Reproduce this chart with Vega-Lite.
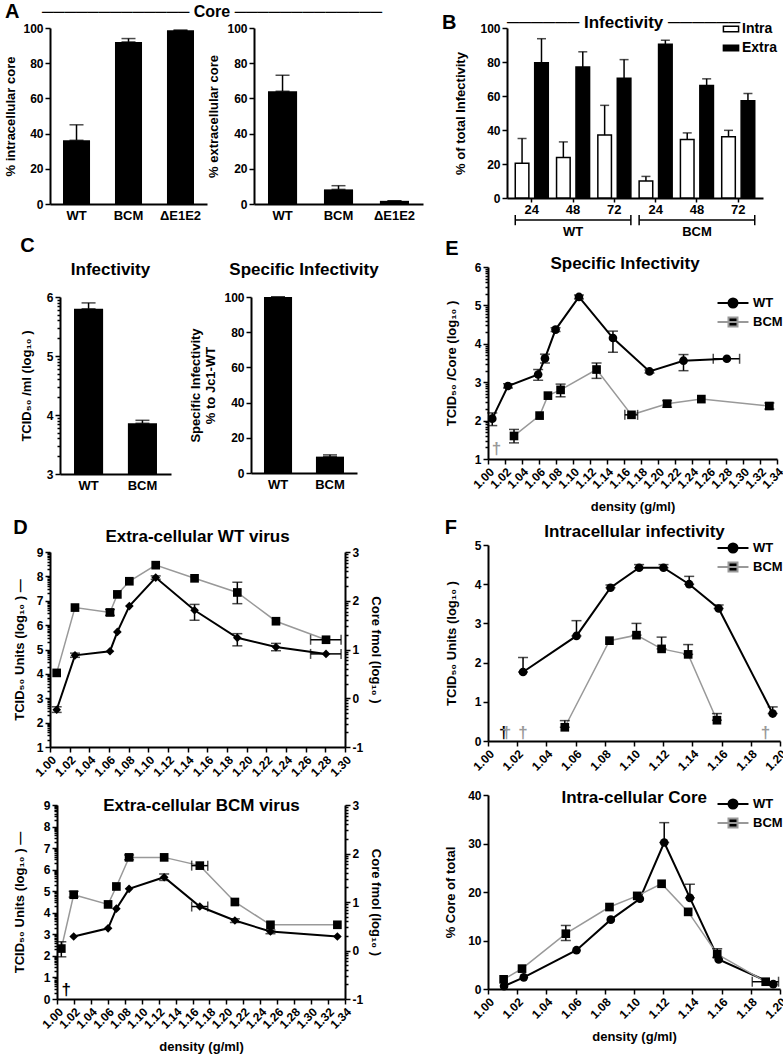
{
"$schema":"https://vega.github.io/schema/vega-lite/v6.json",
"background":"white",
"padding":{"left":4,"top":2,"right":0,"bottom":0},
"config":{
 "font":"Liberation Sans",
 "view":{"stroke":null},
 "axis":{"labelFont":"Liberation Sans","labelFontWeight":"bold","labelFontSize":12,"labelColor":"black","titleFont":"Liberation Sans","titleFontWeight":"bold","titleFontSize":13,"titleColor":"black","domainColor":"black","domainWidth":2,"tickColor":"black","tickWidth":1.5,"tickSize":5,"grid":false,"labelPadding":2,"titlePadding":6,"labelOverlap":false},
 "title":{"font":"Liberation Sans","fontWeight":"bold","fontSize":17,"color":"black"},
 "legend":{"labelFont":"Liberation Sans","labelFontWeight":"bold","labelFontSize":14,"labelColor":"black"}
},
"spacing":18,
"resolve":{"scale":{"shape":"independent","fill":"independent","stroke":"independent"},"legend":{"shape":"independent","fill":"independent","stroke":"independent"}},
"hconcat":[
 {"columns":1,"align":"none","spacing":26,"concat":[
  {"columns":1,"align":"none","spacing":14,"concat":[
   {"title":{"text":"───────────── Core ─────────────","fontSize":16,"offset":-18,"anchor":"start","dx":37},
    "spacing":0,
    "hconcat":[
     {"title":{"text":"A","anchor":"start","fontSize":20,"offset":0},
      "width":157,"height":176,
      "data":{"values":[{"v":"WT","m":36.2,"hi":45},{"v":"BCM","m":92.1,"hi":94},{"v":"ΔE1E2","m":98.7,"hi":98.7}]},
      "encoding":{
       "x":{"field":"v","type":"nominal","sort":null,"title":null,"scale":{"paddingInner":0.48,"paddingOuter":0.25},"axis":{"labelAngle":0,"ticks":false,"labelPadding":5,"labelFontSize":13}},
       "y":{"field":"m","type":"quantitative","title":"% intracellular core","scale":{"domain":[0,100],"nice":false},"axis":{"values":[0,20,40,60,80,100],"labelOverlap":false,"titlePadding":5}}
      },
      "layer":[
       {"mark":{"type":"bar","color":"black"},"encoding":{}},
       {"mark":{"type":"errorbar","ticks":true,"size":14,"thickness":1.5,"color":"black"},"encoding":{"y2":{"field":"hi"}}}
      ]},
     {"width":169,"height":176,
      "data":{"values":[{"v":"WT","m":64.1,"hi":73.2},{"v":"BCM","m":8.3,"hi":10.4},{"v":"ΔE1E2","m":1.8,"hi":1.8}]},
      "encoding":{
       "x":{"field":"v","type":"nominal","sort":null,"title":null,"scale":{"paddingInner":0.48,"paddingOuter":0.25},"axis":{"labelAngle":0,"ticks":false,"labelPadding":5,"labelFontSize":13}},
       "y":{"field":"m","type":"quantitative","title":"% extracellular core","scale":{"domain":[0,100],"nice":false},"axis":{"values":[0,20,40,60,80,100],"labelOverlap":false,"titlePadding":6}}
      },
      "layer":[
       {"mark":{"type":"bar","color":"black"},"encoding":{}},
       {"mark":{"type":"errorbar","ticks":true,"size":14,"thickness":1.5,"color":"black"},"encoding":{"y2":{"field":"hi"}}}
      ]}
    ]},
   {"title":{"text":"C","anchor":"start","fontSize":20,"offset":5},
    "spacing":18,
    "hconcat":[
     {"title":{"text":"Infectivity","offset":12},"width":121,"height":177,
      "data":{"values":[{"v":"WT","m":5.8,"hi":5.9},{"v":"BCM","m":3.86,"hi":3.91}]},
      "encoding":{
       "x":{"field":"v","type":"nominal","sort":null,"title":null,"scale":{"paddingInner":0.46,"paddingOuter":0.26,"range":[10,121]},"axis":{"labelAngle":0,"ticks":false,"labelPadding":5,"labelFontSize":13}},
       "y":{"field":"m","type":"quantitative","title":"TCID₅₀ /ml (log₁₀ )","scale":{"domain":[3,6],"nice":false,"zero":false},"axis":{"offset":-10,"titlePadding":13,"values":[3,3.301,3.477,3.602,3.699,3.778,3.845,3.903,3.954,4,4.301,4.477,4.602,4.699,4.778,4.845,4.903,4.954,5,5.301,5.477,5.602,5.699,5.778,5.845,5.903,5.954,6],"labelExpr":"datum.value == round(datum.value) ? '' + datum.value : ''","labelOverlap":false,"tickSize":{"condition":{"test":"datum.value == round(datum.value)","value":5},"value":3}}}
      },
      "layer":[
       {"mark":{"type":"bar","color":"black"},"encoding":{"y2":{"datum":3}}},
       {"mark":{"type":"errorbar","ticks":true,"size":14,"thickness":1.5,"color":"black"},"encoding":{"y2":{"field":"hi"}}}
      ]},
     {"title":{"text":"Specific Infectivity","offset":12},"width":106,"height":176,
      "data":{"values":[{"v":"WT","m":100,"hi":100},{"v":"BCM","m":9.3,"hi":10.3}]},
      "encoding":{
       "x":{"field":"v","type":"nominal","sort":null,"title":null,"scale":{"paddingInner":0.46,"paddingOuter":0.25},"axis":{"labelAngle":0,"ticks":false,"labelPadding":5,"labelFontSize":13}},
       "y":{"field":"m","type":"quantitative","title":["Specific Infectivity","% to Jc1-WT"],"scale":{"domain":[0,100],"nice":false},"axis":{"values":[0,20,40,60,80,100],"labelOverlap":false}}
      },
      "layer":[
       {"mark":{"type":"bar","color":"black"},"encoding":{}},
       {"mark":{"type":"errorbar","ticks":true,"size":14,"thickness":1.5,"color":"black"},"encoding":{"y2":{"field":"hi"}}}
      ]}
    ]}
  ]},
  {"title":{"text":"D","anchor":"start","fontSize":20,"offset":-10},
   "columns":1,"align":"none","spacing":18,
   "concat":[
    {"title":{"text":"Extra-cellular WT virus","offset":0,"anchor":"middle"},
     "vconcat":[
      {"width":295,"height":195,
       "data":{"values":[
        {"s":"T","x":1.0068,"y":2.53,"lo":2.42,"hi":2.65},
        {"s":"T","x":1.0254,"y":4.76,"lo":4.68,"hi":4.85},
        {"s":"T","x":1.061,"y":4.93},
        {"s":"T","x":1.0685,"y":5.72},
        {"s":"T","x":1.0807,"y":6.78},
        {"s":"T","x":1.1075,"y":7.95,"lo":7.88,"hi":8.02},
        {"s":"T","x":1.147,"y":6.61,"lo":6.2,"hi":6.85},
        {"s":"T","x":1.1905,"y":5.48,"lo":5.15,"hi":5.65},
        {"s":"T","x":1.2298,"y":5.1,"lo":4.95,"hi":5.25},
        {"s":"T","x":1.2807,"y":4.82,"xlo":1.265,"xhi":1.296},
        {"s":"C","x":1.0068,"y":0.52},
        {"s":"C","x":1.0254,"y":1.86},
        {"s":"C","x":1.061,"y":1.76,"lo":1.7,"hi":1.82},
        {"s":"C","x":1.0685,"y":2.13},
        {"s":"C","x":1.0807,"y":2.4},
        {"s":"C","x":1.1075,"y":2.73},
        {"s":"C","x":1.147,"y":2.46},
        {"s":"C","x":1.1905,"y":2.17,"lo":1.94,"hi":2.38},
        {"s":"C","x":1.2298,"y":1.58},
        {"s":"C","x":1.2807,"y":1.2,"xlo":1.265,"xhi":1.296}
       ]},
       "encoding":{"x":{"field":"x","type":"quantitative","title":null,"scale":{"domain":[1,1.3],"nice":false,"zero":false},"axis":{"values":[1,1.02,1.04,1.06,1.08,1.1,1.12,1.14,1.16,1.18,1.2,1.22,1.24,1.26,1.28,1.3],"format":".2f","labelAngle":-45,"labelOverlap":false}}},
       "resolve":{"scale":{"y":"independent"}},
       "layer":[
        {"transform":[{"filter":"datum.s=='T'"}],
         "encoding":{"y":{"field":"y","type":"quantitative","title":"TCID₅₀ Units (log₁₀ )   —","scale":{"domain":[1,9],"nice":false,"zero":false},"axis":{"titlePadding":10,"values":[1,1.301,1.477,1.602,1.699,1.778,1.845,1.903,1.954,2,2.301,2.477,2.602,2.699,2.778,2.845,2.903,2.954,3,3.301,3.477,3.602,3.699,3.778,3.845,3.903,3.954,4,4.301,4.477,4.602,4.699,4.778,4.845,4.903,4.954,5,5.301,5.477,5.602,5.699,5.778,5.845,5.903,5.954,6,6.301,6.477,6.602,6.699,6.778,6.845,6.903,6.954,7,7.301,7.477,7.602,7.699,7.778,7.845,7.903,7.954,8,8.301,8.477,8.602,8.699,8.778,8.845,8.903,8.954,9],"labelExpr":"datum.value == round(datum.value) ? '' + datum.value : ''","labelOverlap":false,"tickSize":{"condition":{"test":"datum.value == round(datum.value)","value":5},"value":3}}}},
         "layer":[
          {"mark":{"type":"line","color":"black","strokeWidth":2},"encoding":{}},
          {"transform":[{"filter":"isValid(datum.hi)"}],"mark":{"type":"errorbar","ticks":true,"size":10,"thickness":1.5,"color":"black"},"encoding":{"y":{"field":"lo","type":"quantitative","title":"TCID₅₀ Units (log₁₀ )   —"},"y2":{"field":"hi"}}},
          {"transform":[{"filter":"isValid(datum.xlo)"}],"mark":{"type":"errorbar","ticks":true,"size":10,"thickness":1.5,"color":"black"},"encoding":{"x":{"field":"xlo","type":"quantitative","title":null},"x2":{"field":"xhi"}}},
          {"mark":{"type":"point","shape":"diamond","filled":true,"color":"black","size":75,"opacity":1}}
         ]},
        {"transform":[{"filter":"datum.s=='C'"}],
         "encoding":{"y":{"field":"y","type":"quantitative","title":"Core fmol (log₁₀ )","scale":{"domain":[-1,3],"nice":false,"zero":false},"axis":{"orient":"right","values":[-1,-0.699,-0.523,-0.398,-0.301,-0.222,-0.155,-0.097,-0.046,0,0.301,0.477,0.602,0.699,0.778,0.845,0.903,0.954,1,1.301,1.477,1.602,1.699,1.778,1.845,1.903,1.954,2,2.301,2.477,2.602,2.699,2.778,2.845,2.903,2.954,3],"labelExpr":"datum.value == round(datum.value) ? '' + datum.value : ''","labelOverlap":false,"tickSize":{"condition":{"test":"datum.value == round(datum.value)","value":5},"value":3}}}},
         "layer":[
          {"mark":{"type":"line","color":"#999999","strokeWidth":1.5},"encoding":{}},
          {"transform":[{"filter":"isValid(datum.hi)"}],"mark":{"type":"errorbar","ticks":true,"size":10,"thickness":1.5,"color":"black"},"encoding":{"y":{"field":"lo","type":"quantitative","title":"Core fmol (log₁₀ )"},"y2":{"field":"hi"}}},
          {"transform":[{"filter":"isValid(datum.xlo)"}],"mark":{"type":"errorbar","ticks":true,"size":10,"thickness":1.5,"color":"black"},"encoding":{"x":{"field":"xlo","type":"quantitative","title":null},"x2":{"field":"xhi"}}},
          {"mark":{"type":"point","shape":"square","filled":true,"color":"black","size":75,"opacity":1}}
         ]}
       ]}
     ]},
    {"title":{"text":"Extra-cellular BCM virus","offset":-16,"anchor":"middle","dx":4},
     "vconcat":[
      {"width":295,"height":194,
       "data":{"values":[
        {"s":"T","x":1.0197,"y":2.9},
        {"s":"T","x":1.0603,"y":3.28},
        {"s":"T","x":1.0701,"y":4.19},
        {"s":"T","x":1.0851,"y":5.11},
        {"s":"T","x":1.1265,"y":5.65,"lo":5.5,"hi":5.8},
        {"s":"T","x":1.1686,"y":4.29,"xlo":1.159,"xhi":1.178},
        {"s":"T","x":1.21,"y":3.64,"lo":3.55,"hi":3.72},
        {"s":"T","x":1.252,"y":3.13,"lo":3.03,"hi":3.2},
        {"s":"T","x":1.331,"y":2.9},
        {"s":"C","x":1.0051,"y":0.04,"lo":-0.13,"hi":0.18},
        {"s":"C","x":1.0197,"y":1.15,"lo":1.1,"hi":1.22},
        {"s":"C","x":1.0603,"y":0.95},
        {"s":"C","x":1.0701,"y":1.32},
        {"s":"C","x":1.0851,"y":1.92,"lo":1.87,"hi":1.97},
        {"s":"C","x":1.1265,"y":1.92},
        {"s":"C","x":1.1686,"y":1.75,"xlo":1.159,"xhi":1.178},
        {"s":"C","x":1.21,"y":1.0},
        {"s":"C","x":1.252,"y":0.53},
        {"s":"C","x":1.331,"y":0.53}
       ]},
       "encoding":{"x":{"field":"x","type":"quantitative","title":"density (g/ml)","scale":{"domain":[1,1.34],"nice":false,"zero":false,"range":[7,295]},"axis":{"values":[1,1.02,1.04,1.06,1.08,1.1,1.12,1.14,1.16,1.18,1.2,1.22,1.24,1.26,1.28,1.3,1.32,1.34],"format":".2f","labelAngle":-45,"labelOverlap":false,"titlePadding":10}}},
       "resolve":{"scale":{"y":"independent"}},
       "layer":[
        {"transform":[{"filter":"datum.s=='T'"}],
         "encoding":{"y":{"field":"y","type":"quantitative","title":"TCID₅₀ Units (log₁₀ )   —","scale":{"domain":[0,9],"nice":false,"zero":false},"axis":{"offset":-7,"titlePadding":17,"values":[0,0.301,0.477,0.602,0.699,0.778,0.845,0.903,0.954,1,1.301,1.477,1.602,1.699,1.778,1.845,1.903,1.954,2,2.301,2.477,2.602,2.699,2.778,2.845,2.903,2.954,3,3.301,3.477,3.602,3.699,3.778,3.845,3.903,3.954,4,4.301,4.477,4.602,4.699,4.778,4.845,4.903,4.954,5,5.301,5.477,5.602,5.699,5.778,5.845,5.903,5.954,6,6.301,6.477,6.602,6.699,6.778,6.845,6.903,6.954,7,7.301,7.477,7.602,7.699,7.778,7.845,7.903,7.954,8,8.301,8.477,8.602,8.699,8.778,8.845,8.903,8.954,9],"labelExpr":"datum.value == round(datum.value) ? '' + datum.value : ''","labelOverlap":false,"tickSize":{"condition":{"test":"datum.value == round(datum.value)","value":5},"value":3}}}},
         "layer":[
          {"mark":{"type":"line","color":"black","strokeWidth":2},"encoding":{}},
          {"transform":[{"filter":"isValid(datum.hi)"}],"mark":{"type":"errorbar","ticks":true,"size":10,"thickness":1.5,"color":"black"},"encoding":{"y":{"field":"lo","type":"quantitative","title":"TCID₅₀ Units (log₁₀ )   —"},"y2":{"field":"hi"}}},
          {"transform":[{"filter":"isValid(datum.xlo)"}],"mark":{"type":"errorbar","ticks":true,"size":10,"thickness":1.5,"color":"black"},"encoding":{"x":{"field":"xlo","type":"quantitative","title":"density (g/ml)"},"x2":{"field":"xhi"}}},
          {"mark":{"type":"point","shape":"diamond","filled":true,"color":"black","size":75,"opacity":1}},
          {"data":{"values":[{"x":1.011,"y":0.4}]},"mark":{"type":"text","text":"†","fill":"black","fontSize":17,"fontWeight":"bold"}}
         ]},
        {"transform":[{"filter":"datum.s=='C'"}],
         "encoding":{"y":{"field":"y","type":"quantitative","title":"Core fmol (log₁₀ )","scale":{"domain":[-1,3],"nice":false,"zero":false},"axis":{"orient":"right","values":[-1,-0.699,-0.523,-0.398,-0.301,-0.222,-0.155,-0.097,-0.046,0,0.301,0.477,0.602,0.699,0.778,0.845,0.903,0.954,1,1.301,1.477,1.602,1.699,1.778,1.845,1.903,1.954,2,2.301,2.477,2.602,2.699,2.778,2.845,2.903,2.954,3],"labelExpr":"datum.value == round(datum.value) ? '' + datum.value : ''","labelOverlap":false,"tickSize":{"condition":{"test":"datum.value == round(datum.value)","value":5},"value":3}}}},
         "layer":[
          {"mark":{"type":"line","color":"#999999","strokeWidth":1.5},"encoding":{}},
          {"transform":[{"filter":"isValid(datum.hi)"}],"mark":{"type":"errorbar","ticks":true,"size":10,"thickness":1.5,"color":"black"},"encoding":{"y":{"field":"lo","type":"quantitative","title":"Core fmol (log₁₀ )"},"y2":{"field":"hi"}}},
          {"transform":[{"filter":"isValid(datum.xlo)"}],"mark":{"type":"errorbar","ticks":true,"size":10,"thickness":1.5,"color":"black"},"encoding":{"x":{"field":"xlo","type":"quantitative","title":"density (g/ml)"},"x2":{"field":"xhi"}}},
          {"mark":{"type":"point","shape":"square","filled":true,"color":"black","size":75,"opacity":1}}
         ]}
       ]}
     ]}
   ]}
 ]},
 {"columns":1,"align":"none","spacing":4,
  "resolve":{"scale":{"shape":"independent","fill":"independent","stroke":"independent"},"legend":{"shape":"independent","fill":"independent","stroke":"independent"}},
  "concat":[
  {"columns":1,"align":"none","spacing":0,
   "resolve":{"scale":{"shape":"independent","fill":"independent","stroke":"independent"},"legend":{"shape":"independent","fill":"independent","stroke":"independent"}},
   "concat":[
   {"title":{"text":"──────   Infectivity   ──────","fontSize":17,"offset":-19,"anchor":"start","dx":65},
    "resolve":{"scale":{"fill":"independent"},"legend":{"fill":"independent"}},
    "vconcat":[
     {"title":{"text":"B","anchor":"start","fontSize":20,"offset":-11,"dx":-13},
      "width":275,"height":170,
      "layer":[
       {"data":{"values":[
         {"g":"WT|24","t":"Intra","m":20.5,"hi":35},
         {"g":"WT|24","t":"Extra","m":79.5,"hi":93.7},
         {"g":"WT|48","t":"Intra","m":23.8,"hi":33},
         {"g":"WT|48","t":"Extra","m":77,"hi":86},
         {"g":"WT|72","t":"Intra","m":37,"hi":54.5},
         {"g":"WT|72","t":"Extra","m":70.5,"hi":81.4},
         {"g":"BCM|24","t":"Intra","m":10,"hi":12.7},
         {"g":"BCM|24","t":"Extra","m":90.4,"hi":92.8},
         {"g":"BCM|48","t":"Intra","m":34.4,"hi":38.3},
         {"g":"BCM|48","t":"Extra","m":66.2,"hi":70.1},
         {"g":"BCM|72","t":"Intra","m":36.1,"hi":39.8},
         {"g":"BCM|72","t":"Extra","m":57.2,"hi":61.5}
        ]},
        "encoding":{
         "x":{"field":"g","type":"nominal","title":null,"scale":{"domain":["WT|24","WT|48","WT|72","BCM|24","BCM|48","BCM|72"],"paddingInner":0.2,"paddingOuter":0.2,"range":[19,275]},"axis":{"labelExpr":"split(datum.label,'|')[1]","labelAngle":0,"tickSize":4,"labelFontSize":13,"labelPadding":1}},
         "xOffset":{"field":"t","type":"nominal","scale":{"domain":["Intra","Extra"],"paddingInner":0.3}},
         "y":{"field":"m","type":"quantitative","title":"% of total Infectivity","scale":{"domain":[0,100],"nice":false},"axis":{"offset":-19,"values":[0,20,40,60,80,100],"labelOverlap":false,"titlePadding":12}}
        },
        "layer":[
         {"mark":{"type":"bar","stroke":"black","strokeWidth":1.5},
          "encoding":{
           "fill":{"field":"t","type":"nominal","scale":{"domain":["Intra","Extra"],"range":["white","black"]},"legend":{"title":null,"orient":"none","legendX":236,"legendY":-6,"symbolType":"M-1.6,-0.6H1.6V0.6H-1.6Z","symbolSize":90,"symbolStrokeColor":"black","symbolStrokeWidth":1.5,"rowPadding":5}}
          }},
         {"mark":{"type":"rule","color":"black","strokeWidth":1.5},"encoding":{"y2":{"field":"hi"}}},
         {"mark":{"type":"tick","color":"black","thickness":1.5,"size":9},"encoding":{"y":{"field":"hi","type":"quantitative","title":"% of total Infectivity","scale":{"domain":[0,100],"nice":false},"axis":{"offset":-19,"values":[0,20,40,60,80,100],"labelOverlap":false,"titlePadding":12}}}}
        ]},
       {"data":{"values":[{"grp":"WT","s":"WT|24","e":"WT|72","mid":"WT|48"},{"grp":"BCM","s":"BCM|24","e":"BCM|72","mid":"BCM|48"}]},
        "layer":[
         {"mark":{"type":"rule","color":"black","strokeWidth":1.5},"encoding":{"x":{"field":"s","type":"nominal","title":null,"bandPosition":0},"x2":{"field":"e","bandPosition":1},"y":{"datum":-13,"type":"quantitative","title":"% of total Infectivity","scale":{"domain":[0,100],"nice":false},"axis":{"offset":-19,"values":[0,20,40,60,80,100],"labelOverlap":false,"titlePadding":12}}}},
         {"mark":{"type":"rule","color":"black","strokeWidth":1.5},"encoding":{"x":{"field":"s","type":"nominal","title":null,"bandPosition":0},"y":{"datum":-10,"type":"quantitative","title":"% of total Infectivity","scale":{"domain":[0,100],"nice":false},"axis":{"offset":-19,"values":[0,20,40,60,80,100],"labelOverlap":false,"titlePadding":12}},"y2":{"datum":-16}}},
         {"mark":{"type":"rule","color":"black","strokeWidth":1.5},"encoding":{"x":{"field":"e","type":"nominal","title":null,"bandPosition":1},"y":{"datum":-10,"type":"quantitative","title":"% of total Infectivity","scale":{"domain":[0,100],"nice":false},"axis":{"offset":-19,"values":[0,20,40,60,80,100],"labelOverlap":false,"titlePadding":12}},"y2":{"datum":-16}}},
         {"mark":{"type":"text","fontWeight":"bold","fontSize":13,"baseline":"middle"},"encoding":{"x":{"field":"mid","type":"nominal","title":null},"y":{"datum":-20,"type":"quantitative","title":"% of total Infectivity","scale":{"domain":[0,100],"nice":false},"axis":{"offset":-19,"values":[0,20,40,60,80,100],"labelOverlap":false,"titlePadding":12}},"text":{"field":"grp"}}}
        ]}
      ]}
    ]},
   {"title":{"text":"E","anchor":"start","fontSize":20,"offset":-4},
    "resolve":{"scale":{"shape":"independent","stroke":"independent"},"legend":{"shape":"independent","stroke":"independent"}},
    "vconcat":[
     {"title":{"text":"Specific Infectivity","offset":-12,"anchor":"middle","dx":10},
      "resolve":{"scale":{"shape":"independent","stroke":"independent"},"legend":{"shape":"independent","stroke":"independent"}},
      "vconcat":[
       {"width":289,"height":192,
        "data":{"values":[
         {"s":"WT","x":1.005,"y":2.05,"lo":1.87,"hi":2.2},
         {"s":"WT","x":1.0235,"y":2.9,"lo":2.85,"hi":2.96},
         {"s":"WT","x":1.059,"y":3.2,"lo":3.05,"hi":3.33},
         {"s":"WT","x":1.067,"y":3.62,"lo":3.5,"hi":3.73},
         {"s":"WT","x":1.0795,"y":4.37,"lo":4.32,"hi":4.42},
         {"s":"WT","x":1.107,"y":5.22,"lo":5.17,"hi":5.27},
         {"s":"WT","x":1.147,"y":4.15,"lo":3.78,"hi":4.33},
         {"s":"WT","x":1.19,"y":3.28,"lo":3.24,"hi":3.32},
         {"s":"WT","x":1.23,"y":3.56,"lo":3.3,"hi":3.72},
         {"s":"WT","x":1.281,"y":3.61,"xlo":1.265,"xhi":1.296},
         {"s":"BCM","x":1.0306,"y":1.6,"lo":1.42,"hi":1.77},
         {"s":"BCM","x":1.0607,"y":2.13},
         {"s":"BCM","x":1.0705,"y":2.65},
         {"s":"BCM","x":1.0854,"y":2.8,"lo":2.62,"hi":2.95},
         {"s":"BCM","x":1.1277,"y":3.33,"lo":3.1,"hi":3.5},
         {"s":"BCM","x":1.1688,"y":2.15,"xlo":1.161,"xhi":1.176},
         {"s":"BCM","x":1.2107,"y":2.44,"lo":2.35,"hi":2.52},
         {"s":"BCM","x":1.251,"y":2.56},
         {"s":"BCM","x":1.331,"y":2.38,"lo":2.3,"hi":2.46}
        ]},
        "encoding":{
         "x":{"field":"x","type":"quantitative","title":"density (g/ml)","scale":{"domain":[1,1.34],"nice":false,"zero":false},"axis":{"values":[1,1.02,1.04,1.06,1.08,1.1,1.12,1.14,1.16,1.18,1.2,1.22,1.24,1.26,1.28,1.3,1.32,1.34],"format":".2f","labelAngle":-45,"labelOverlap":false,"titlePadding":10}},
         "y":{"field":"y","type":"quantitative","title":"TCID₅₀ /Core (log₁₀ )","scale":{"domain":[1,6],"nice":false,"zero":false},"axis":{"titlePadding":16,"values":[1,1.301,1.477,1.602,1.699,1.778,1.845,1.903,1.954,2,2.301,2.477,2.602,2.699,2.778,2.845,2.903,2.954,3,3.301,3.477,3.602,3.699,3.778,3.845,3.903,3.954,4,4.301,4.477,4.602,4.699,4.778,4.845,4.903,4.954,5,5.301,5.477,5.602,5.699,5.778,5.845,5.903,5.954,6],"labelExpr":"datum.value == round(datum.value) ? '' + datum.value : ''","labelOverlap":false,"tickSize":{"condition":{"test":"datum.value == round(datum.value)","value":5},"value":3}}}
        },
        "resolve":{"scale":{"shape":"independent","stroke":"independent"}},
        "layer":[
         {"transform":[{"filter":"datum.s=='WT'"}],
          "layer":[
           {"mark":{"type":"line","color":"black","strokeWidth":2},"encoding":{}},
           {"transform":[{"filter":"isValid(datum.hi)"}],"mark":{"type":"errorbar","ticks":true,"size":10,"thickness":1.5,"color":"black"},"encoding":{"y":{"field":"lo","type":"quantitative","title":"TCID₅₀ /Core (log₁₀ )"},"y2":{"field":"hi"}}},
           {"transform":[{"filter":"isValid(datum.xlo)"}],"mark":{"type":"errorbar","ticks":true,"size":10,"thickness":1.5,"color":"black"},"encoding":{"x":{"field":"xlo","type":"quantitative","title":"density (g/ml)"},"x2":{"field":"xhi"}}},
           {"mark":{"type":"point","shape":"circle","filled":true,"color":"black","size":75,"opacity":1}}
          ]},
         {"transform":[{"filter":"datum.s=='BCM'"}],
          "layer":[
           {"mark":{"type":"line","color":"#999999","strokeWidth":1.5},"encoding":{}},
           {"transform":[{"filter":"isValid(datum.hi)"}],"mark":{"type":"errorbar","ticks":true,"size":10,"thickness":1.5,"color":"black"},"encoding":{"y":{"field":"lo","type":"quantitative","title":"TCID₅₀ /Core (log₁₀ )"},"y2":{"field":"hi"}}},
           {"transform":[{"filter":"isValid(datum.xlo)"}],"mark":{"type":"errorbar","ticks":true,"size":10,"thickness":1.5,"color":"black"},"encoding":{"x":{"field":"xlo","type":"quantitative","title":"density (g/ml)"},"x2":{"field":"xhi"}}},
           {"mark":{"type":"point","shape":"square","filled":true,"color":"black","size":75,"opacity":1}}
          ]},
         {"data":{"values":[{"x":1.01,"y":1.25}]},"mark":{"type":"text","text":"†","fill":"#999999","fontSize":17,"fontWeight":"bold"}},
         {"data":{"values":[]},"mark":{"type":"point","filled":true,"fill":"black","strokeWidth":2,"opacity":1},
          "encoding":{
           "shape":{"field":"s","type":"nominal","scale":{"domain":["WT","BCM"],"range":["M-1.72,0H1.72M0.5,0A0.5,0.5,0,1,1,-0.5,0A0.5,0.5,0,1,1,0.5,0Z","M-1.72,0H1.72M-0.5,-0.5H0.5V0.5H-0.5Z"]},"legend":{"title":null,"orient":"none","legendX":235,"legendY":26,"symbolSize":324,"symbolFillColor":"black","symbolStrokeWidth":2,"labelOffset":10,"labelFontSize":13,"rowPadding":0}},
           "stroke":{"field":"s","type":"nominal","scale":{"domain":["WT","BCM"],"range":["black","#999999"]},"legend":{"title":null,"orient":"none","legendX":235,"legendY":26,"symbolSize":324,"symbolFillColor":"black","symbolStrokeWidth":2,"labelOffset":10,"labelFontSize":13,"rowPadding":0}}
          }}
        ]}
      ]}
    ]}
  ]},
  {"title":{"text":"F","anchor":"start","fontSize":20,"offset":-15},
   "columns":1,"align":"none","spacing":16,
   "resolve":{"scale":{"shape":"independent","stroke":"independent"},"legend":{"shape":"independent","stroke":"independent"}},
   "concat":[
    {"title":{"text":"Intracellular infectivity","offset":-3,"anchor":"middle","dx":18},
     "resolve":{"scale":{"shape":"independent","stroke":"independent"},"legend":{"shape":"independent","stroke":"independent"}},
     "vconcat":[
      {"width":292,"height":196,
       "data":{"values":[
        {"s":"WT","x":1.024,"y":1.76,"lo":1.76,"hi":2.13},
        {"s":"WT","x":1.0606,"y":2.68,"lo":2.68,"hi":3.07},
        {"s":"WT","x":1.0839,"y":3.91,"lo":3.91,"hi":3.98},
        {"s":"WT","x":1.1035,"y":4.42,"lo":4.42,"hi":4.5},
        {"s":"WT","x":1.1202,"y":4.42,"lo":4.42,"hi":4.5},
        {"s":"WT","x":1.1378,"y":4.0,"lo":4.0,"hi":4.2},
        {"s":"WT","x":1.158,"y":3.38,"lo":3.38,"hi":3.47},
        {"s":"WT","x":1.195,"y":0.7,"lo":0.7,"hi":0.87},
        {"s":"BCM","x":1.0526,"y":0.35,"lo":0.35,"hi":0.52},
        {"s":"BCM","x":1.0832,"y":2.56},
        {"s":"BCM","x":1.1017,"y":2.7,"lo":2.7,"hi":3.0},
        {"s":"BCM","x":1.1189,"y":2.35,"lo":2.35,"hi":2.65},
        {"s":"BCM","x":1.1371,"y":2.21,"lo":2.21,"hi":2.46},
        {"s":"BCM","x":1.1568,"y":0.53,"lo":0.53,"hi":0.7}
       ]},
       "encoding":{
        "x":{"field":"x","type":"quantitative","title":null,"scale":{"domain":[1,1.2],"nice":false,"zero":false},"axis":{"values":[1,1.02,1.04,1.06,1.08,1.1,1.12,1.14,1.16,1.18,1.2],"format":".2f","labelAngle":-45,"labelOverlap":false}},
        "y":{"field":"y","type":"quantitative","title":"TCID₅₀ Units (log₁₀ )","scale":{"domain":[0,5],"nice":false},"axis":{"values":[0,1,2,3,4,5],"labelOverlap":false,"titlePadding":16}}
       },
       "resolve":{"scale":{"shape":"independent","stroke":"independent"}},
       "layer":[
        {"transform":[{"filter":"datum.s=='WT'"}],
         "layer":[
          {"mark":{"type":"line","color":"black","strokeWidth":2},"encoding":{}},
          {"transform":[{"filter":"isValid(datum.hi)"}],"mark":{"type":"errorbar","ticks":true,"size":10,"thickness":1.5,"color":"black"},"encoding":{"y":{"field":"lo","type":"quantitative","title":"TCID₅₀ Units (log₁₀ )"},"y2":{"field":"hi"}}},
          {"mark":{"type":"point","shape":"circle","filled":true,"color":"black","size":75,"opacity":1}}
         ]},
        {"transform":[{"filter":"datum.s=='BCM'"}],
         "layer":[
          {"mark":{"type":"line","color":"#999999","strokeWidth":1.5},"encoding":{}},
          {"transform":[{"filter":"isValid(datum.hi)"}],"mark":{"type":"errorbar","ticks":true,"size":10,"thickness":1.5,"color":"black"},"encoding":{"y":{"field":"lo","type":"quantitative","title":"TCID₅₀ Units (log₁₀ )"},"y2":{"field":"hi"}}},
          {"mark":{"type":"point","shape":"square","filled":true,"color":"black","size":75,"opacity":1}}
         ]},
        {"data":{"values":[{"x":1.0107,"y":0.2}]},"mark":{"type":"text","text":"†","fill":"black","fontSize":17,"fontWeight":"bold"}},
        {"data":{"values":[{"x":1.0126,"y":0.2},{"x":1.024,"y":0.2},{"x":1.19,"y":0.2}]},"mark":{"type":"text","text":"†","fill":"#999999","fontSize":17,"fontWeight":"bold"}},
        {"data":{"values":[]},"mark":{"type":"point","filled":true,"fill":"black","strokeWidth":2,"opacity":1},
         "encoding":{
          "shape":{"field":"s","type":"nominal","scale":{"domain":["WT","BCM"],"range":["M-1.72,0H1.72M0.5,0A0.5,0.5,0,1,1,-0.5,0A0.5,0.5,0,1,1,0.5,0Z","M-1.72,0H1.72M-0.5,-0.5H0.5V0.5H-0.5Z"]},"legend":{"title":null,"orient":"none","legendX":235,"legendY":-7,"symbolSize":324,"symbolFillColor":"black","symbolStrokeWidth":2,"labelOffset":10,"labelFontSize":13,"rowPadding":0}},
          "stroke":{"field":"s","type":"nominal","scale":{"domain":["WT","BCM"],"range":["black","#999999"]},"legend":{"title":null,"orient":"none","legendX":235,"legendY":-7,"symbolSize":324,"symbolFillColor":"black","symbolStrokeWidth":2,"labelOffset":10,"labelFontSize":13,"rowPadding":0}}
         }}
       ]}
     ]},
    {"title":{"text":"Intra-cellular Core","offset":-18,"anchor":"middle","dx":18},
     "resolve":{"scale":{"shape":"independent","stroke":"independent"},"legend":{"shape":"independent","stroke":"independent"}},
     "vconcat":[
      {"width":292,"height":194,
       "data":{"values":[
        {"s":"WT","x":1.011,"y":0.6},
        {"s":"WT","x":1.0245,"y":2.4},
        {"s":"WT","x":1.0606,"y":8.0},
        {"s":"WT","x":1.0841,"y":14.3},
        {"s":"WT","x":1.104,"y":18.6},
        {"s":"WT","x":1.1207,"y":30.2,"lo":30.2,"hi":34.3},
        {"s":"WT","x":1.1383,"y":18.8,"lo":18.8,"hi":21.6},
        {"s":"WT","x":1.158,"y":6.1},
        {"s":"WT","x":1.1954,"y":1.0},
        {"s":"BCM","x":1.0107,"y":2.0},
        {"s":"BCM","x":1.0233,"y":4.2},
        {"s":"BCM","x":1.0533,"y":11.4,"lo":10.0,"hi":13.1},
        {"s":"BCM","x":1.0832,"y":16.9},
        {"s":"BCM","x":1.1022,"y":19.2},
        {"s":"BCM","x":1.1189,"y":21.7},
        {"s":"BCM","x":1.1371,"y":15.9},
        {"s":"BCM","x":1.157,"y":7.2,"lo":6.5,"hi":8.3},
        {"s":"BCM","x":1.1902,"y":1.5,"xlo":1.181,"xhi":1.199}
       ]},
       "encoding":{
        "x":{"field":"x","type":"quantitative","title":"density (g/ml)","scale":{"domain":[1,1.2],"nice":false,"zero":false},"axis":{"values":[1,1.02,1.04,1.06,1.08,1.1,1.12,1.14,1.16,1.18,1.2],"format":".2f","labelAngle":-45,"labelOverlap":false,"titlePadding":10}},
        "y":{"field":"y","type":"quantitative","title":"% Core of total","scale":{"domain":[0,40],"nice":false},"axis":{"values":[0,10,20,30,40],"labelOverlap":false,"titlePadding":10}}
       },
       "resolve":{"scale":{"shape":"independent","stroke":"independent"}},
       "layer":[
        {"transform":[{"filter":"datum.s=='WT'"}],
         "layer":[
          {"mark":{"type":"line","color":"black","strokeWidth":2},"encoding":{}},
          {"transform":[{"filter":"isValid(datum.hi)"}],"mark":{"type":"errorbar","ticks":true,"size":10,"thickness":1.5,"color":"black"},"encoding":{"y":{"field":"lo","type":"quantitative","title":"% Core of total"},"y2":{"field":"hi"}}},
          {"mark":{"type":"point","shape":"circle","filled":true,"color":"black","size":75,"opacity":1}}
         ]},
        {"transform":[{"filter":"datum.s=='BCM'"}],
         "layer":[
          {"mark":{"type":"line","color":"#999999","strokeWidth":1.5},"encoding":{}},
          {"transform":[{"filter":"isValid(datum.hi)"}],"mark":{"type":"errorbar","ticks":true,"size":10,"thickness":1.5,"color":"black"},"encoding":{"y":{"field":"lo","type":"quantitative","title":"% Core of total"},"y2":{"field":"hi"}}},
          {"transform":[{"filter":"isValid(datum.xlo)"}],"mark":{"type":"errorbar","ticks":true,"size":10,"thickness":1.5,"color":"black"},"encoding":{"x":{"field":"xlo","type":"quantitative","title":"density (g/ml)"},"x2":{"field":"xhi"}}},
          {"mark":{"type":"point","shape":"square","filled":true,"color":"black","size":75,"opacity":1}}
         ]},
        {"data":{"values":[]},"mark":{"type":"point","filled":true,"fill":"black","strokeWidth":2,"opacity":1},
         "encoding":{
          "shape":{"field":"s","type":"nominal","scale":{"domain":["WT","BCM"],"range":["M-1.72,0H1.72M0.5,0A0.5,0.5,0,1,1,-0.5,0A0.5,0.5,0,1,1,0.5,0Z","M-1.72,0H1.72M-0.5,-0.5H0.5V0.5H-0.5Z"]},"legend":{"title":null,"orient":"none","legendX":235,"legendY":-1,"symbolSize":324,"symbolFillColor":"black","symbolStrokeWidth":2,"labelOffset":10,"labelFontSize":13,"rowPadding":0}},
          "stroke":{"field":"s","type":"nominal","scale":{"domain":["WT","BCM"],"range":["black","#999999"]},"legend":{"title":null,"orient":"none","legendX":235,"legendY":-1,"symbolSize":324,"symbolFillColor":"black","symbolStrokeWidth":2,"labelOffset":10,"labelFontSize":13,"rowPadding":0}}
         }}
       ]}
     ]}
   ]}
 ]}
]
}
